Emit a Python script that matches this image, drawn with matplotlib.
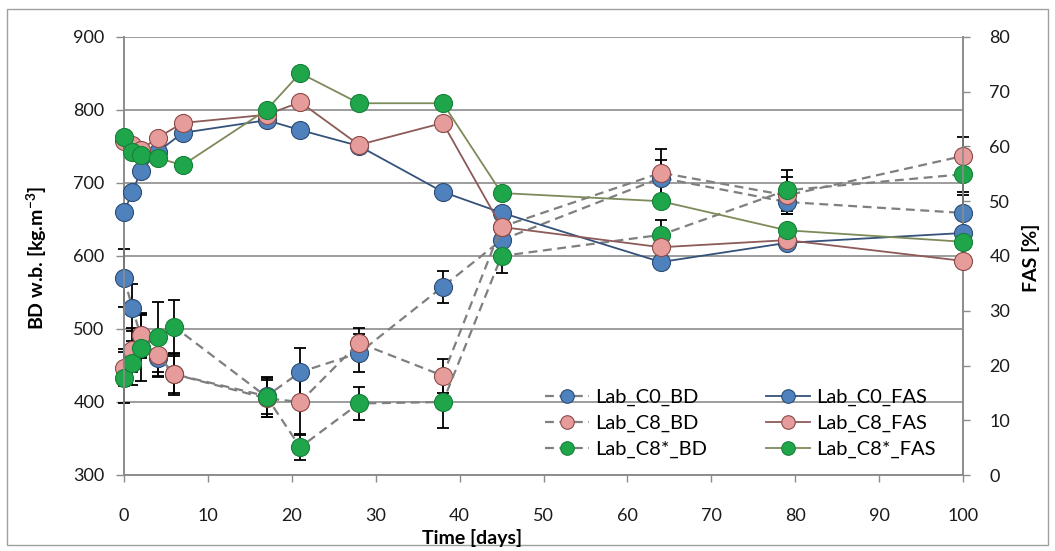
import numpy as np
import matplotlib
matplotlib.use("Agg")
import matplotlib.pyplot as plt
from matplotlib.patches import Rectangle

# sampling days
days_bd = [0, 1, 2, 4, 6, 17, 21, 28, 38, 45, 64, 79, 100]
days_fas = [0, 1, 2, 4, 7, 17, 21, 28, 38, 45, 64, 79, 100]

# bulk density, wet basis [kg.m-3]
c0_bd = [570, 529, 490, 460, 438, 408, 441, 467, 558, 622, 707, 674, 659]
c8_bd = [447, 471, 492, 464, 438, 405, 400, 481, 436, 640, 714, 683, 737]
c8s_bd = [433, 453, 474, 489, 503, 407, 338, 398, 400, 600, 629, 690, 712]

c0_bd_err = [40, 32, 30, 25, 25, 25, 33, 26, 22, 20, 25, 16, 25]
c8_bd_err = [25, 30, 30, 30, 29, 25, 45, 20, 23, 20, 32, 25, 26]
c8s_bd_err = [35, 30, 45, 48, 37, 27, 18, 23, 36, 23, 20, 28, 25]

# free air space [%]
c0_fas = [48.0, 51.7, 55.5, 59.0, 62.5, 64.8, 63.0, 60.1, 51.7, 47.9, 38.9, 42.4, 44.2]
c8_fas = [61.0, 60.3, 59.4, 61.6, 64.3, 65.8, 68.1, 60.3, 64.3, 45.3, 41.6, 42.9, 39.1]
c8s_fas = [61.7, 59.0, 58.4, 57.9, 56.6, 66.7, 73.4, 67.9, 67.9, 51.5, 50.0, 44.7, 42.6]

plt.rcParams['font.family'] = ['Lato', 'DejaVu Sans']

blue, blue_edge = '#4F81BD', '#2C4D75'
pink, pink_edge = '#E59C9B', '#8C4A48'
green, green_edge = '#1FA64A', '#17803A'
ms = 13

fig = plt.figure(figsize=(10.55, 5.51), dpi=100)
fig.patches.append(Rectangle((7 / 1055, 6 / 551), 1041 / 1055, 536 / 551,
                             transform=fig.transFigure, fill=False,
                             edgecolor='#A0A0A0', linewidth=1))
ax = fig.add_axes([124 / 1055, 1 - 475 / 551, (963 - 124) / 1055, (475 - 37) / 551])
ax2 = ax.twinx()

handles = []
for vals, err, fc, ec, name in [(c0_bd, c0_bd_err, blue, blue_edge, 'Lab_C0_BD'),
                                (c8_bd, c8_bd_err, pink, pink_edge, 'Lab_C8_BD'),
                                (c8s_bd, c8s_bd_err, green, green_edge, 'Lab_C8*_BD')]:
    eb = ax.errorbar(days_bd, vals, yerr=err, fmt='none', ecolor='black',
                     elinewidth=1.3, capsize=4, capthick=1.3, zorder=3)
    for art in eb.lines[1] + eb.lines[2]:
        art.set_clip_on(False)
    h, = ax.plot(days_bd, vals, linestyle=(0, (4, 2.5)), color='#7F7F7F', linewidth=1.6,
                 marker='o', markersize=ms, markerfacecolor=fc, markeredgecolor=ec,
                 markeredgewidth=0.8, label=name, zorder=4, clip_on=False)
    handles.append(h)

fas_handles = []
for vals, fc, ec, lc, name in [(c0_fas, blue, blue_edge, '#35527A', 'Lab_C0_FAS'),
                               (c8_fas, pink, pink_edge, '#8C5A58', 'Lab_C8_FAS'),
                               (c8s_fas, green, green_edge, '#7D8A5A', 'Lab_C8*_FAS')]:
    h, = ax2.plot(days_fas, vals, linestyle='-', color=lc, linewidth=1.3,
                  marker='o', markersize=ms, markerfacecolor=fc, markeredgecolor=ec,
                  markeredgewidth=0.8, label=name, zorder=4, clip_on=False)
    fas_handles.append(h)

ax.set_xlim(0, 100)
ax.set_ylim(300, 900)
ax2.set_ylim(0, 80)
ax.set_xticks(np.arange(0, 101, 10))
ax.set_yticks(np.arange(300, 901, 100))
ax2.set_yticks(np.arange(0, 81, 10))

ax.grid(axis='y', color='#8C8C8C', linewidth=1.2)
ax.set_axisbelow(True)
for a in (ax, ax2):
    a.spines['top'].set_visible(False)
    for s in ('left', 'right', 'bottom'):
        a.spines[s].set_color('#8C8C8C')
        a.spines[s].set_linewidth(1.2)

ax.tick_params(axis='x', direction='out', length=5, width=1, color='#8C8C8C',
               pad=19, labelsize=13, labelcolor='#1A1A1A')
ax.tick_params(axis='y', direction='out', length=6, width=1, color='#8C8C8C',
               pad=8, labelsize=13, labelcolor='#1A1A1A')
ax2.tick_params(axis='y', direction='out', length=5, width=1, color='#8C8C8C',
                pad=14, labelsize=13, labelcolor='#1A1A1A')

fig.text(37 / 1055, 1 - 258 / 551, 'BD w.b. [kg.m$^{\\mathregular{-3}}$]', rotation=90,
         ha='center', va='center', fontsize=14, fontweight='bold')
fig.text(1031 / 1055, 1 - 258 / 551, 'FAS [%]', rotation=90,
         ha='center', va='center', fontsize=14, fontweight='bold')
fig.text(472 / 1055, 1 - 538 / 551, 'Time [days]',
         ha='center', va='center', fontsize=14, fontweight='bold')

order = handles + fas_handles
leg = ax2.legend(order, [h.get_label() for h in order], ncol=2, loc='lower left',
                 bbox_to_anchor=((545 - 124) / 839, (475 - 458) / 438), frameon=False,
                 fontsize=14.5, handlelength=2.2, columnspacing=2.9, labelspacing=0.42,
                 handletextpad=0.3, borderaxespad=0, borderpad=0, markerscale=0.75)

fig.savefig('out.png', dpi=100)
